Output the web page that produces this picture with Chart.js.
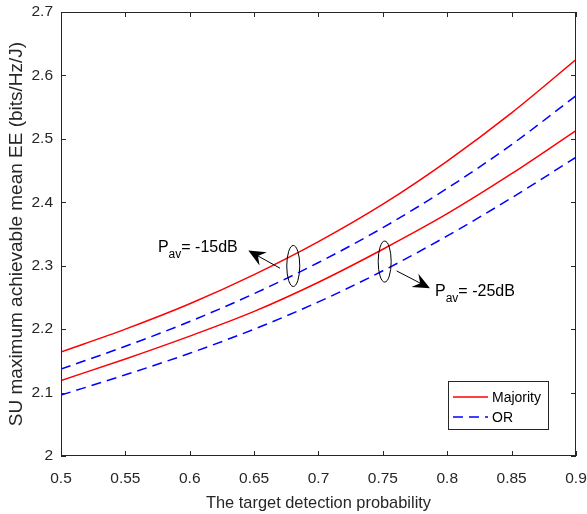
<!DOCTYPE html>
<html>
<head>
<meta charset="utf-8">
<title>SU maximum achievable mean EE</title>
<script src="https://cdn.jsdelivr.net/npm/chart.js@4.4.0/dist/chart.umd.min.js"></script>
<style>
  html, body { margin: 0; padding: 0; background: #fff; }
  canvas { display: block; }
</style>
</head>
<body>
<canvas id="eeChart" width="587" height="514"></canvas>
<script>
// target detection probability
const detectionProb = [0.5, 0.55, 0.6, 0.65, 0.7, 0.75, 0.8, 0.85, 0.9];

// Pav = -15dB
const majorityHigh = [2.164, 2.200, 2.240, 2.286, 2.338, 2.397, 2.465, 2.541, 2.625];
const orHigh       = [2.137, 2.173, 2.212, 2.256, 2.305, 2.360, 2.422, 2.491, 2.568];
// Pav = -25dB
const majorityLow  = [2.119, 2.153, 2.189, 2.228, 2.274, 2.326, 2.382, 2.445, 2.513];
const orLow        = [2.096, 2.128, 2.162, 2.200, 2.243, 2.292, 2.347, 2.407, 2.471];

const xTickValues = [0.5, 0.55, 0.6, 0.65, 0.7, 0.75, 0.8, 0.85, 0.9];
const yTickValues = [2, 2.1, 2.2, 2.3, 2.4, 2.5, 2.6, 2.7];

const seriesNames = ['Majority', 'OR'];

const FONT = 'Arial, "Liberation Sans", Helvetica, sans-serif';
const AXIS_COLOR = '#262626';
const RED = '#ff0000';
const BLUE = '#0000ff';
const DASH = [10, 6];

function toPoints(ys) {
  return detectionProb.map((p, i) => ({ x: p, y: ys[i] }));
}

function lineDataset(label, ys, color, dash) {
  return {
    label: label,
    data: toPoints(ys),
    borderColor: color,
    backgroundColor: color,
    borderWidth: 1.5,
    borderDash: dash,
    pointRadius: 0,
    fill: false,
    cubicInterpolationMode: 'monotone'
  };
}

// MATLAB-like box, inward ticks, the Pav callouts and the legend
const axesDecor = {
  id: 'axesDecor',
  afterDraw(chart) {
    const ctx = chart.ctx;
    const a = chart.chartArea;
    const xs = chart.scales.x, ys = chart.scales.y;
    const tick = 5;

    ctx.save();
    ctx.strokeStyle = AXIS_COLOR;
    ctx.lineWidth = 1;
    ctx.strokeRect(a.left + 0.5, a.top + 0.5, a.right - a.left - 1, a.bottom - a.top - 1);

    ctx.beginPath();
    xTickValues.forEach(v => {
      const px = Math.round(xs.getPixelForValue(v)) + 0.5;
      ctx.moveTo(px, a.bottom); ctx.lineTo(px, a.bottom - tick);
      ctx.moveTo(px, a.top); ctx.lineTo(px, a.top + tick);
    });
    yTickValues.forEach(v => {
      const py = Math.round(ys.getPixelForValue(v)) + 0.5;
      ctx.moveTo(a.left, py); ctx.lineTo(a.left + tick, py);
      ctx.moveTo(a.right, py); ctx.lineTo(a.right - tick, py);
    });
    ctx.stroke();

    // callout ellipses around each power level pair
    ctx.strokeStyle = '#000';
    ctx.lineWidth = 1;
    [[0.6804, 2.2996], [0.7514, 2.3065]].forEach(c => {
      ctx.beginPath();
      ctx.ellipse(xs.getPixelForValue(c[0]), ys.getPixelForValue(c[1]), 6.5, 20.5, 0, 0, Math.PI * 2);
      ctx.stroke();
    });

    function arrow(x0, y0, x1, y1) {
      const p0x = xs.getPixelForValue(x0), p0y = ys.getPixelForValue(y0);
      const p1x = xs.getPixelForValue(x1), p1y = ys.getPixelForValue(y1);
      const ang = Math.atan2(p1y - p0y, p1x - p0x);
      const len = 17, half = 7.5, notch = 11;
      ctx.beginPath();
      ctx.moveTo(p0x, p0y);
      ctx.lineTo(p1x - Math.cos(ang) * notch, p1y - Math.sin(ang) * notch);
      ctx.stroke();
      ctx.save();
      ctx.translate(p1x, p1y);
      ctx.rotate(ang);
      ctx.beginPath();
      ctx.moveTo(0, 0);
      ctx.lineTo(-len, -half);
      ctx.lineTo(-notch, 0);
      ctx.lineTo(-len, half);
      ctx.closePath();
      ctx.fillStyle = '#000';
      ctx.fill();
      ctx.restore();
    }
    arrow(0.6701, 2.2961, 0.6455, 2.3238);
    arrow(0.7607, 2.2918, 0.7866, 2.2645);

    function powerLabel(x, y, rest) {
      let px = xs.getPixelForValue(x);
      const py = ys.getPixelForValue(y);
      ctx.fillStyle = '#000';
      ctx.textBaseline = 'alphabetic';
      ctx.textAlign = 'left';
      ctx.font = '16px ' + FONT;
      ctx.fillText('P', px, py);
      px += ctx.measureText('P').width;
      ctx.font = '12px ' + FONT;
      ctx.fillText('av', px, py + 6);
      px += ctx.measureText('av').width;
      ctx.font = '16px ' + FONT;
      ctx.fillText(rest, px, py);
    }
    powerLabel(0.5753, 2.3222, '= -15dB');
    powerLabel(0.7905, 2.2524, '= -25dB');

    // legend box, bottom right inside the axes
    const lx = 448, ly = 381, lw = 100, lh = 48;
    ctx.fillStyle = '#fff';
    ctx.fillRect(lx, ly, lw, lh);
    ctx.strokeStyle = AXIS_COLOR;
    ctx.lineWidth = 1;
    ctx.strokeRect(lx + 0.5, ly + 0.5, lw, lh);
    const legendRows = [
      { name: seriesNames[0], color: RED, dash: [], y: 397 },
      { name: seriesNames[1], color: BLUE, dash: DASH, y: 417 }
    ];
    ctx.font = '14px ' + FONT;
    ctx.textBaseline = 'middle';
    legendRows.forEach(r => {
      ctx.beginPath();
      ctx.strokeStyle = r.color;
      ctx.lineWidth = 1.5;
      ctx.setLineDash(r.dash);
      ctx.moveTo(lx + 5, r.y);
      ctx.lineTo(lx + 40, r.y);
      ctx.stroke();
      ctx.setLineDash([]);
      ctx.fillStyle = '#000';
      ctx.fillText(r.name, lx + 44, r.y + 1);
    });
    ctx.restore();
  }
};

new Chart(document.getElementById('eeChart'), {
  type: 'line',
  data: {
    datasets: [
      lineDataset(seriesNames[0] + ' -15dB', majorityHigh, RED, []),
      lineDataset(seriesNames[1] + ' -15dB', orHigh, BLUE, DASH),
      lineDataset(seriesNames[0] + ' -25dB', majorityLow, RED, []),
      lineDataset(seriesNames[1] + ' -25dB', orLow, BLUE, DASH)
    ]
  },
  options: {
    responsive: false,
    animation: false,
    devicePixelRatio: 1,
    layout: { padding: { left: 0, right: 11, top: 12, bottom: 0 } },
    plugins: {
      legend: { display: false },
      tooltip: { enabled: false }
    },
    scales: {
      x: {
        type: 'linear',
        min: 0.5,
        max: 0.9,
        afterBuildTicks: s => { s.ticks = xTickValues.map(v => ({ value: v })); },
        afterFit: s => { s.height = 58; s.paddingLeft = 0; s.paddingRight = 0; },
        grid: { display: false, drawTicks: false },
        border: { display: false },
        ticks: {
          color: AXIS_COLOR,
          font: { family: FONT, size: 15.5 },
          padding: 13,
          maxRotation: 0,
          callback: v => String(parseFloat(v.toFixed(2)))
        },
        title: {
          display: true,
          text: 'The target detection probability',
          color: AXIS_COLOR,
          font: { family: FONT, size: 16.4 },
          padding: { top: 0, bottom: 1 }
        }
      },
      y: {
        type: 'linear',
        min: 2,
        max: 2.7,
        afterBuildTicks: s => { s.ticks = yTickValues.map(v => ({ value: v })); },
        afterFit: s => { s.width = 61; s.paddingTop = 0; s.paddingBottom = 0; },
        grid: { display: false, drawTicks: false },
        border: { display: false },
        ticks: {
          color: AXIS_COLOR,
          font: { family: FONT, size: 15.5 },
          padding: 8,
          callback: v => String(parseFloat(v.toFixed(1)))
        },
        title: {
          display: true,
          text: 'SU maximum achievable mean EE (bits/Hz/J)',
          color: AXIS_COLOR,
          font: { family: FONT, size: 19 },
          padding: { top: 5, bottom: 0 }
        }
      }
    }
  },
  plugins: [axesDecor]
});
</script>
</body>
</html>
